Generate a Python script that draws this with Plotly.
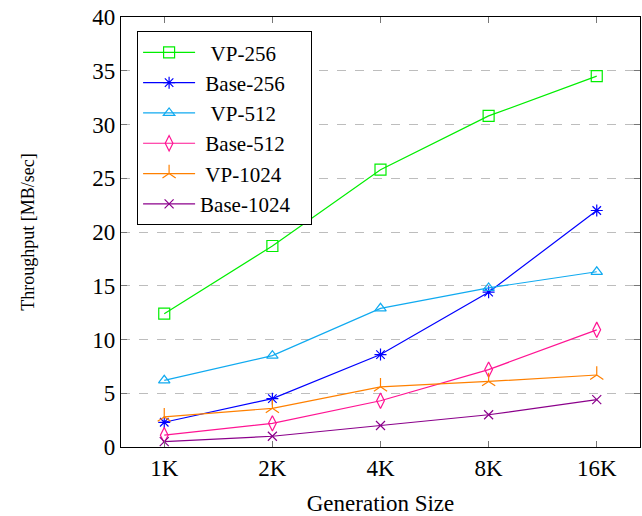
import plotly.graph_objects as go

categories = ["1K", "2K", "4K", "8K", "16K"]
vp_256 = [12.4, 18.7, 25.8, 30.8, 34.5]
base_256 = [2.3, 4.5, 8.6, 14.4, 22.0]
vp_512 = [6.2, 8.5, 12.9, 14.8, 16.3]
base_512 = [1.1, 2.2, 4.3, 7.2, 10.9]
vp_1024 = [2.8, 3.6, 5.6, 6.1, 6.7]
base_1024 = [0.5, 1.0, 2.0, 3.0, 4.4]
y_ticks = [0, 5, 10, 15, 20, 25, 30, 35, 40]
series_names = ["VP-256", "Base-256", "VP-512", "Base-512", "VP-1024", "Base-1024"]

NB = "\u00a0"
pad = [2, 1, 2, 1, 1, 0]  # leading non-breaking spaces to centre legend labels
colors = ["#00ee00", "#0000ff", "#10aaf0", "#ff1493", "#ff8000", "#8b008b"]
symbols = ["square-open", "asterisk-open", "triangle-up-open",
           "diamond-tall-open", "y-up-open", "x-thin-open"]
sizes = [11, 10, 10, 11, 11, 9]
values = [vp_256, base_256, vp_512, base_512, vp_1024, base_1024]

fig = go.Figure()
xidx = list(range(len(categories)))
for name, vals, color, sym, size, p in zip(series_names, values, colors, symbols, sizes, pad):
    fig.add_trace(go.Scatter(
        x=xidx, y=vals, name=NB * p + name + NB * 3, mode="lines+markers",
        line=dict(color=color, width=1.2),
        marker=dict(symbol=sym, size=size, color=color,
                    line=dict(color=color, width=1.2)),
    ))

font_family = "Liberation Serif"
fig.update_layout(
    width=642, height=516,
    margin=dict(l=121, r=2, t=17, b=69),
    paper_bgcolor="white", plot_bgcolor="white",
    font=dict(family=font_family, size=23, color="black"),
    showlegend=True,
    legend=dict(
        x=0.031, y=0.967, xanchor="left", yanchor="top",
        bordercolor="black", borderwidth=1, bgcolor="white",
        font=dict(family=font_family, size=21, color="black"),
        tracegroupgap=0, itemwidth=52,
    ),
    xaxis=dict(
        range=[-0.4, 4.4], tickmode="array", tickvals=xidx, ticktext=categories,
        ticks="inside", ticklen=6, tickcolor="#777", showgrid=False,
        showline=True, linecolor="black", linewidth=1.2, mirror="ticks",
        zeroline=False,
        title=dict(text="Generation Size", standoff=18,
                   font=dict(family=font_family, size=23)),
        tickfont=dict(family=font_family, size=23),
    ),
    yaxis=dict(
        range=[0, 40], tickmode="array", tickvals=y_ticks,
        ticks="inside", ticklen=6, tickcolor="#777",
        showgrid=True, gridcolor="#bdbdbd", griddash="dash", gridwidth=1,
        showline=True, linecolor="black", linewidth=1.2, mirror="ticks",
        zeroline=False,
        title=dict(text="Throughput [MB/sec]", standoff=52,
                   font=dict(family=font_family, size=18)),
        tickfont=dict(family=font_family, size=23),
    ),
)

fig.write_html("out.html", config={"displayModeBar": False},
               post_script="document.body.style.margin='0';")
